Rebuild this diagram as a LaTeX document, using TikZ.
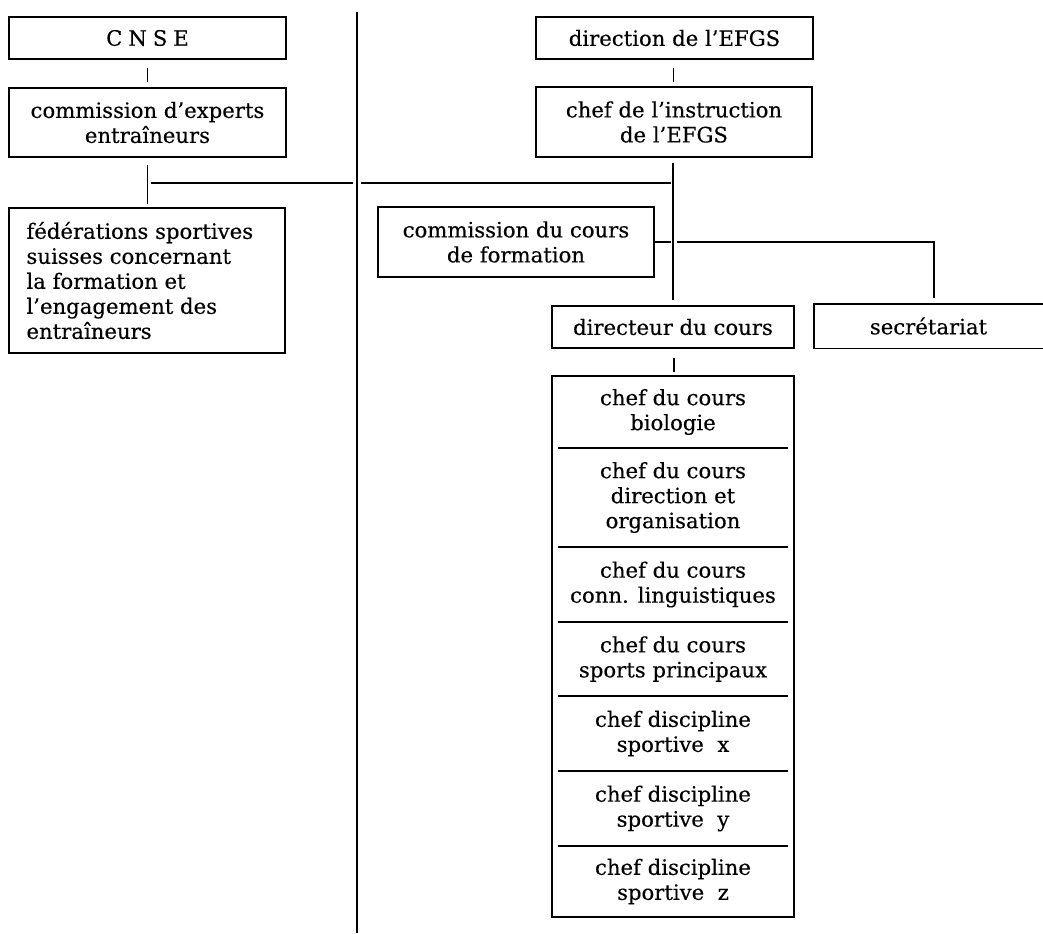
\documentclass[tikz,border=0pt]{standalone}
\usepackage{fontspec}
\setmainfont{DejaVu Serif}[FakeBold=0.3]
\begin{document}
\begin{tikzpicture}[x=0.5pt,y=-0.5pt,
  every node/.style={font=\fontsize{10.6}{12.5}\selectfont},
  box/.style={draw, line width=0.9pt, inner sep=0pt, align=center},
  plain/.style={inner sep=0pt, align=center},
  conn/.style={line width=0.9pt},
  sep/.style={line width=0.9pt}]
\useasboundingbox (0,0) rectangle (1043,933);
% divider
\coordinate (divtop) at (357,12);
\coordinate (divbot) at (357,933);
\draw[conn] (divtop) -- (divbot);
% left column
\node[box, minimum width=138.5pt, minimum height=21pt] (cnse) at (147.5,38) {C\hspace{0.28em}N\hspace{0.28em}S\hspace{0.28em}E};
\node[box, minimum width=138.5pt, minimum height=34.5pt] (comexp) at (147.5,122.5) {commission d’experts\\entraîneurs};
\node[box, minimum width=138pt, minimum height=72.5pt] (fed) at (147,280.5) {};
\node[plain, anchor=west, align=left] (fedtext) at ([xshift=9pt]fed.west) {fédérations sportives\\suisses concernant\\la formation et\\l’engagement des\\entraîneurs};
% right column
\node[box, minimum width=138.5pt, minimum height=21pt] (dir) at (674.5,38) {direction de l’EFGS};
\node[box, minimum width=138pt, minimum height=35pt] (chef) at (674,122) {chef de l’instruction\\de l’EFGS};
\node[box, minimum width=138pt, minimum height=35pt] (comcours) at (516,242) {commission du cours\\de formation};
\node[box, minimum width=121pt, minimum height=21pt] (directeur) at (673,327) {directeur du cours};
\node[plain, minimum width=114.5pt, minimum height=22pt] (secr) at (928.5,326) {secrétariat};
\draw[conn] (secr.north east) -- (secr.north west) -- (secr.south west) -- (secr.south east);
% stack
\node[box, minimum width=121pt, minimum height=270.5pt] (stack) at (673,646.5) {};
\node[plain] (c1) at (673,412) {chef du cours\\biologie};
\node[plain] (c2) at (673,497.5) {chef du cours\\direction et\\organisation};
\node[plain] (c3) at (673,584.5) {chef du cours\\conn. linguistiques};
\node[plain] (c4) at (673,659) {chef du cours\\sports principaux};
\node[plain] (c5) at (673,733.5) {chef discipline\\sportive\ \ x};
\node[plain] (c6) at (673,808.5) {chef discipline\\sportive\ \ y};
\node[plain] (c7) at (673,881.5) {chef discipline\\sportive\ \ z};
\foreach \yy in {448,547,622,696,771,846} \draw[sep] (558,\yy) -- (788,\yy);
% connectors
\draw[conn] (cnse.south) ++(0,8) -- ++(0,14);
\draw[conn] (dir.south) ++(-1,8) -- ++(0,14);
\draw[conn] (comexp.south) ++(0,7) -- ++(0,39);
\coordinate (hA) at (151,183);
\coordinate (hB) at (353,183);
\coordinate (hC) at (361,183);
\coordinate (hD) at (671,183);
\draw[conn] (hA) -- (hB);
\draw[conn] (hC) -- (hD);
\coordinate (vT) at (673,163);
\coordinate (vB) at (673,300);
\draw[conn] (vT) -- (vB);
\coordinate (gA) at (671,242);
\coordinate (gB) at (677,242);
\coordinate (gC) at (934,242);
\coordinate (gD) at (934,298);
\draw[conn] (comcours.east) -- (gA);
\draw[conn] (gB) -- (gC) -- (gD);
\draw[conn] (directeur.south) ++(1,9) -- ++(0,14);
\end{tikzpicture}
\end{document}
